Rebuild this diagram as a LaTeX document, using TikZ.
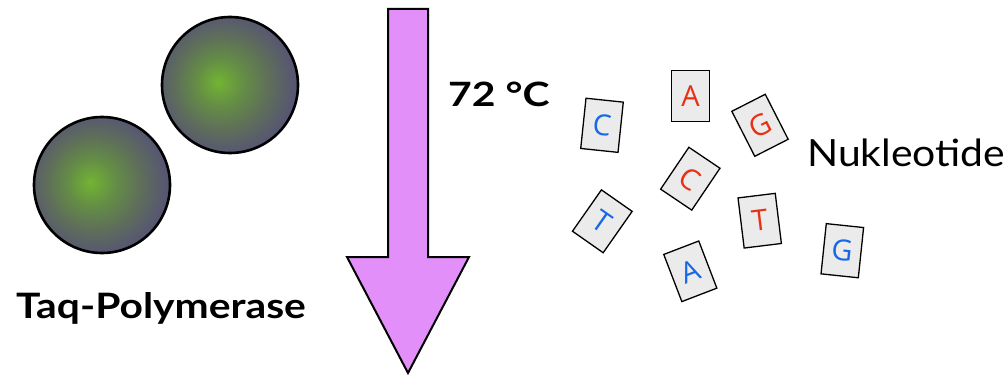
\documentclass[tikz,border=0pt]{standalone}
\usepackage{fontspec}
\setmainfont{Lato}
\newfontfamily\taqfont[FakeStretch=1.165]{Lato}
\newfontfamily\tempfont[FakeStretch=1.22]{Lato}
\newfontfamily\nukfont[FakeStretch=1.09]{Lato}
\newfontfamily\tilefont{Open Sans}
\definecolor{tgreen}{RGB}{114,180,50}
\definecolor{tmid}{RGB}{100,140,70}
\definecolor{tmid2}{RGB}{94,108,92}
\definecolor{tgray}{RGB}{86,86,114}
\definecolor{arrowfill}{RGB}{226,143,250}
\definecolor{tilefill}{RGB}{235,235,235}
\definecolor{nred}{RGB}{232,48,20}
\definecolor{nblue}{RGB}{22,104,232}
\pgfdeclareradialshading{taqshade}{\pgfpoint{-4.5bp}{1bp}}{color(0bp)=(tgreen); color(9bp)=(tmid); color(18bp)=(tmid2); color(26bp)=(tgray); color(50bp)=(tgray)}
\tikzset{
  tile/.style={draw=black, line width=1.3pt, fill=tilefill, minimum width=37.5pt, minimum height=50.5pt, inner sep=0pt, font=\tilefont\fontsize{29}{29}\selectfont},
  ball/.style={draw=black, line width=2.6pt, shading=taqshade},
  bigarrow/.style={draw=black, line width=2pt, fill=arrowfill, line join=miter},
}
\begin{document}
\begin{tikzpicture}[x=1pt,y=-1pt]
\useasboundingbox (0,0) rectangle (1006,377);
% polymerase spheres
\shade[ball] (230,85) circle (68);
\shade[ball] (102,185) circle (68);
\node[anchor=base, inner sep=0pt, font=\taqfont\bfseries\fontsize{35}{35}\selectfont] (taq) at (161,318) {Taq-Polymerase};
% arrow
\draw[bigarrow] (388,9) -- (428,9) -- (428,257) -- (469,257) -- (408,373) -- (347,257) -- (388,257) -- cycle;
\node[anchor=base west, font=\tempfont\bfseries\fontsize{33.5}{33.5}\selectfont, inner sep=0pt] (temp) at (448,106.7) {72 °C};
% nucleotides
\node[tile, rotate=-6, text=nblue] (c1) at (602,125.3) {C};
\node[tile, text=nred] (a1) at (690.5,96) {A};
\node[tile, rotate=27, text=nred] (g1) at (760,125.3) {G};
\node[tile, rotate=-34, text=nred] (c2) at (690.3,178.7) {C};
\node[tile, rotate=-35, text=nblue] (t1) at (602.3,221.3) {T};
\node[tile, rotate=7, text=nred] (t2) at (759.7,220.7) {T};
\node[tile, rotate=21, text=nblue] (a2) at (690.3,271.3) {A};
\node[tile, rotate=-6, text=nblue] (g2) at (842.3,250.7) {G};
\node[anchor=base west, inner sep=0pt, font=\nukfont\fontsize{37.5}{37.5}\selectfont] (nuk) at (807,166.7) {Nukleotide};
\end{tikzpicture}
\end{document}
